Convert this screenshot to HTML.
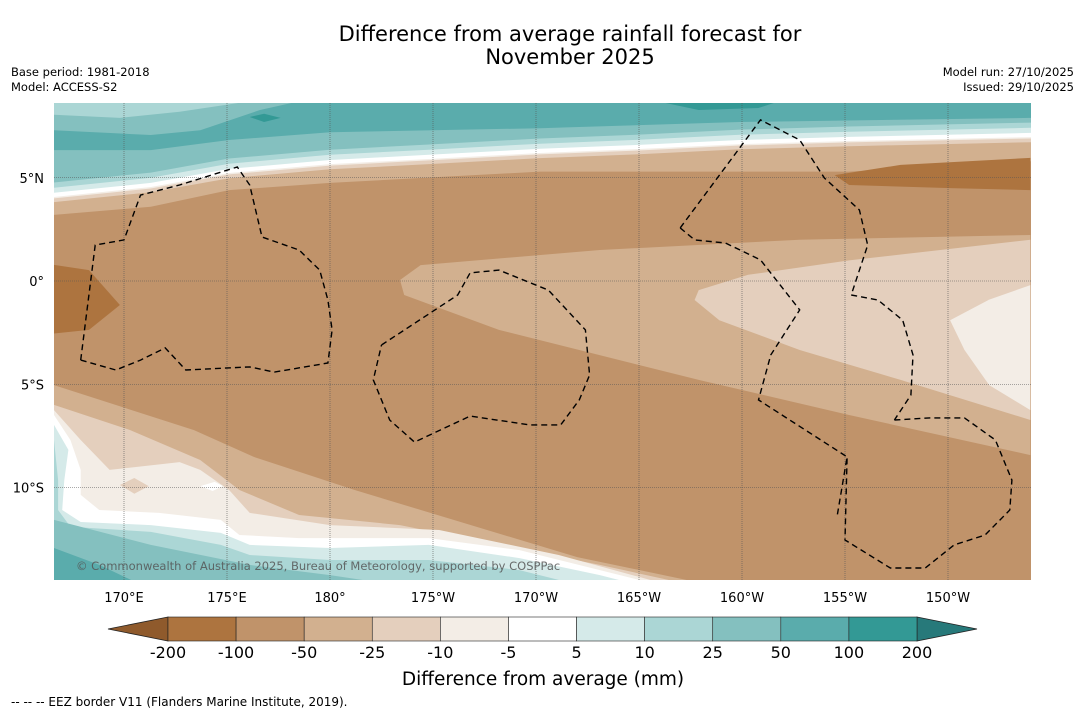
<!DOCTYPE html>
<html><head><meta charset="utf-8"><style>
body{margin:0;background:#fff;}
svg text{font-family:"DejaVu Sans","Liberation Sans",sans-serif;}
</style></head><body>
<svg id="c" width="1085" height="713" xmlns="http://www.w3.org/2000/svg">
<text x="570" y="41" font-size="21" text-anchor="middle">Difference from average rainfall forecast for</text>
<text x="570" y="64" font-size="21" text-anchor="middle">November 2025</text>
<text x="11" y="76" font-size="11.5">Base period: 1981-2018</text>
<text x="11" y="91" font-size="11.5">Model: ACCESS-S2</text>
<text x="1074" y="76" font-size="11.5" text-anchor="end">Model run: 27/10/2025</text>
<text x="1074" y="91" font-size="11.5" text-anchor="end">Issued: 29/10/2025</text>
<defs><clipPath id="mc"><rect x="54" y="103" width="977" height="477"/></clipPath></defs>
<g id="map" clip-path="url(#mc)"></g>
<g id="axes"></g>
<text x="76" y="570" font-size="11.5" fill="#555" fill-opacity="0.85">© Commonwealth of Australia 2025, Bureau of Meteorology, supported by COSPPac</text>
<g id="cbar"></g>
<text x="543" y="685" font-size="18.5" text-anchor="middle">Difference from average (mm)</text>
<text x="11" y="706" font-size="12">--  --  -- EEZ border V11 (Flanders Marine Institute, 2019).</text>
</svg>
<script>
const NS='http://www.w3.org/2000/svg';
const levelLabels=['-200','-100','-50','-25','-10','-5','5','10','25','50','100','200'];
const levelColors=['#ad743f','#c0936a','#d2b08f','#e4cfbd','#f3ede6','#ffffff','#d5eae9','#abd6d5','#84c0bf','#5aacac','#339995'];
const extLow='#8f5a2c', extHigh='#27797a';
const lonTicks=[170,175,180,185,190,195,200,205,210];
const lonTickLabels=['170°E','175°E','180°','175°W','170°W','165°W','160°W','155°W','150°W'];
const latTicks=[5,0,-5,-10];
const latTickLabels=['5°N','0°','5°S','10°S'];
// contour shapes as [lon(°E 0-360), lat]
const front=[[166.6,4.12],[171.3,4.6],[175.1,5.28],[180,5.71],[184.8,5.96],[190.2,6.25],[195,6.44],[199.9,6.68],[205.2,6.83],[214,7.02]];
const upper25=[[166.6,6.34],[171.3,6.34],[175.1,6.83],[180,7.2],[190.2,7.4],[199.9,7.7],[214,7.9]];
const lowerM=[[166.6,3.2],[171.3,3.6],[175.1,4.4],[180,4.75],[190.2,5.3],[205.2,5.3],[214,5.8]];
const topLeft25=[[166.6,8.7],[166.6,7.3],[171.3,7.07],[173.7,7.3],[176.6,8.28],[178.5,8.7]];
const topLeft10=[[166.6,8.7],[166.6,8.05],[169.8,7.9],[172.7,8.2],[176.1,8.7]];
const top100a=[[195.9,8.7],[197.9,8.28],[200.8,8.38],[201.8,8.7]];
const top100b=[[176.1,7.94],[176.8,8.1],[177.6,7.9],[176.8,7.7]];
const ne200=[[204.5,5.13],[207.7,5.62],[214,5.96],[214,4.4],[210.1,4.5],[205.2,4.65]];
const tongue50=[[183.4,0.05],[184.4,0.77],[193.1,1.5],[202.8,2],[214,2.23],[214,-8.43],[205.2,-6.49],[197.9,-4.79],[188.2,-2.37],[183.6,-0.68]];
const tongue25=[[197.7,-0.92],[197.9,-0.44],[200.3,0.3],[205.2,1],[214,2],[214,-6.73],[207.7,-4.79],[202.8,-3.34],[198.9,-1.9]];
const tongue10=[[210.1,-1.9],[212,-0.9],[214,-0.2],[214,-6.25],[212,-5.04],[210.8,-3.34]];
const west200=[[166,0.87],[168.3,0.53],[169.8,-1.16],[168.3,-2.37],[166,-2.6]];
const S1=[[166.6,-5.04],[173.4,-7.22],[176.3,-8.52],[181.2,-10.12],[186,-11.57],[192,-13.37],[197.9,-14.6]];
const S2=[[166.6,-6],[170.3,-7.22],[173.7,-8.67],[175.6,-10.12],[178.5,-11.33],[183.4,-11.82],[188.2,-12.78],[193.1,-13.75],[197,-14.6]];
const S3=[[166.6,-6.25],[167.9,-7.7],[169.3,-9.15],[172.7,-8.77],[173.7,-9.15],[175.1,-10.12],[176.1,-11.23],[180,-11.82],[185.3,-12.06],[191.1,-13.27],[196,-14.6]];
const S4=[[166.6,-6.49],[167.4,-7.7],[167.9,-9.15],[167.9,-10.36],[168.8,-11.09],[171.7,-11.23],[174.7,-11.57],[175.6,-12.3],[178.5,-12.45],[184.8,-12.45],[189.2,-13.03],[193.1,-14],[195.5,-14.6]];
const S5=[[166.6,-6.97],[167.3,-8.18],[167.1,-9.64],[167,-11.09],[167.9,-11.67],[171.3,-11.82],[174.7,-12.2],[176.1,-12.78],[180,-12.93],[184.8,-12.78],[189.2,-13.42],[193.1,-14.24],[194.5,-14.6]];
const S6=[[166.6,-7.7],[166.8,-9.64],[166.8,-11.09],[167.4,-11.9],[171.3,-12.15],[174.7,-12.78],[176.1,-13.27],[180,-13.51],[184.8,-13.51],[189.2,-14],[191.6,-14.6]];
const S7=[[166.6,-11.57],[171.3,-12.78],[176.1,-13.75],[180,-14.24],[182.4,-14.6]];
const S8=[[166.6,-12.93],[168.8,-13.75],[170.6,-14.6]];
const patch25=[[169.8,-9.88],[170.5,-9.54],[171.2,-9.93],[170.5,-10.3]];
const patchW=[[173.7,-9.93],[174.4,-9.73],[174.8,-9.93],[174.3,-10.17]];
const eezWest=[[167.9,-3.83],[168.6,1.74],[170,1.99],[170.8,4.16],[172.7,4.65],[175.5,5.52],[176.1,4.65],[176.7,2.13],[178.5,1.5],[179.5,0.53],[179.9,-0.92],[180.1,-2.37],[179.9,-3.97],[177.3,-4.41],[176.1,-4.16],[173,-4.31],[172,-3.24],[170.8,-3.83],[169.6,-4.31],[167.9,-3.83]];
const eezPhoenix=[[182.5,-3.1],[186.2,-0.68],[186.8,0.39],[188.2,0.53],[190.6,-0.44],[192.4,-2.37],[192.6,-4.55],[192.1,-5.76],[191.2,-6.97],[189.7,-6.97],[186.8,-6.54],[184.1,-7.8],[182.9,-6.73],[182.1,-4.79],[182.5,-3.1]];
const eezLineW=[[197.0,2.57],[197.7,1.99],[199.2,1.84],[200.9,1.02],[202.8,-1.4],[201.4,-3.58],[200.8,-5.76],[205.1,-8.52],[204.6,-11.48]];
const eezLineE=[[197.0,2.57],[200.9,7.8],[202.8,6.83],[204.0,4.99],[205.7,3.44],[206.1,1.74],[205.3,-0.68]];
const eezMarq=[[205.3,-0.68],[206.6,-0.92],[207.8,-1.9],[208.3,-3.58],[208.2,-5.52],[207.4,-6.73]];
const eezCook=[[207.4,-6.73],[209.1,-6.63],[210.8,-6.63],[212.3,-7.7],[213.1,-9.64],[213.0,-11.09],[211.8,-12.3],[210.3,-12.78],[208.9,-13.9],[207.2,-13.9],[205.0,-12.54],[205.1,-8.52]];

const X=lon=>124+(lon-170)*20.6;
const Y=lat=>281-lat*20.65;
const map=document.getElementById('map');
function mk(tag,attrs,parent){const e=document.createElementNS(NS,tag);for(const k in attrs)e.setAttribute(k,attrs[k]);parent.appendChild(e);return e;}
const P=pts=>pts.map(p=>X(p[0]).toFixed(1)+','+Y(p[1]).toFixed(1)).join(' ');
function poly(pts,fill,name){const e=mk('polygon',{points:P(pts),fill:fill},map);

return e;}
const shift=(c,d)=>c.map(p=>[p[0],p[1]+d]);
const ext=c=>{const a=c.map(p=>[p[0],p[1]]);a.unshift([160,a[0][1]]);a.push([220,a[a.length-1][1]]);return a;};
const above=c=>[[160,12],...ext(c),[220,12]];
const below=c=>[[160,-20],...ext(c),[220,-20]];
const C=levelColors;
const bg=mk('rect',{x:54,y:103,width:977,height:477,fill:C[1]},map);


poly(above(lowerM),C[2],'north-band-minus50');
poly(above(shift(front,-0.3)),C[3],'north-band-minus25');
poly(above(shift(front,-0.12)),C[4],'north-band-minus10');
poly(above(shift(front,-0.05)),C[5],'north-band-white');
poly(above(shift(front,0.15)),C[6],'north-band-5');
poly(above(shift(front,0.4)),C[7],'north-band-10');
poly(above(shift(front,0.65)),C[8],'north-band-25');
poly(above(upper25),C[9],'north-band-50');
poly(topLeft25,C[8],'topleft-band-25');
poly(topLeft10,C[7],'topleft-band-10');
poly(top100a,C[10],'top-patch-100');
poly(top100b,C[10],'top-patch-100-small');
poly(ne200,C[0],'ne-patch-minus200');
poly(tongue50,C[2],'east-tongue-minus50');
poly(tongue25,C[3],'east-tongue-minus25');
poly(tongue10,C[4],'east-tongue-minus10');
poly(west200,C[0],'west-patch-minus200');
[[S1,2],[S2,3],[S3,4],[S4,5],[S5,6],[S6,7],[S7,8],[S8,9]].forEach(([s,i])=>poly(below(s),C[i],'south-band-'+levelLabels[i]));
poly(patch25,C[3],'south-patch-minus25');
poly(patchW,C[5],'south-patch-white');
lonTicks.forEach(l=>{const e=mk('line',{x1:X(l),x2:X(l),y1:103,y2:580,stroke:'#555','stroke-width':0.6,'stroke-dasharray':'1,1'},map);

});
latTicks.forEach(l=>{const e=mk('line',{x1:54,x2:1031,y1:Y(l),y2:Y(l),stroke:'#555','stroke-width':0.6,'stroke-dasharray':'1,1'},map);

});
[[eezWest,'eez-kiribati-gilbert'],[eezPhoenix,'eez-phoenix'],[eezLineW,'eez-line-west'],[eezLineE,'eez-line-east'],[eezMarq,'eez-segment'],[eezCook,'eez-cook']].forEach(([pts,n])=>{
const e=mk('polyline',{points:P(pts),fill:'none',stroke:'#000','stroke-width':1.4,'stroke-dasharray':'6,4'},map);

});
const ax=document.getElementById('axes');
lonTicks.forEach((l,i)=>{const t=mk('text',{x:X(l),y:602,'font-size':13,'text-anchor':'middle'},ax);t.textContent=lonTickLabels[i];

});
latTicks.forEach((l,i)=>{const t=mk('text',{x:44,y:Y(l)+5,'font-size':13,'text-anchor':'end'},ax);t.textContent=latTickLabels[i];

});
const cb=document.getElementById('cbar');
const cx0=168,cx1=917,cy0=617,cy1=641,bw=(cx1-cx0)/levelColors.length;
let e=mk('polygon',{points:`${cx0},${cy0} 108,629 ${cx0},${cy1}`,fill:extLow,stroke:'#222','stroke-width':0.8},cb);


e=mk('polygon',{points:`${cx1},${cy0} 977,629 ${cx1},${cy1}`,fill:extHigh,stroke:'#222','stroke-width':0.8},cb);


levelColors.forEach((c,i)=>{const r=mk('rect',{x:cx0+i*bw,y:cy0,width:bw,height:cy1-cy0,fill:c,stroke:'#222','stroke-width':0.6},cb);

});
levelLabels.forEach((s,i)=>{const t=mk('text',{x:cx0+i*bw,y:658,'font-size':16,'text-anchor':'middle'},cb);t.textContent=s;

});
</script>
</body></html>
